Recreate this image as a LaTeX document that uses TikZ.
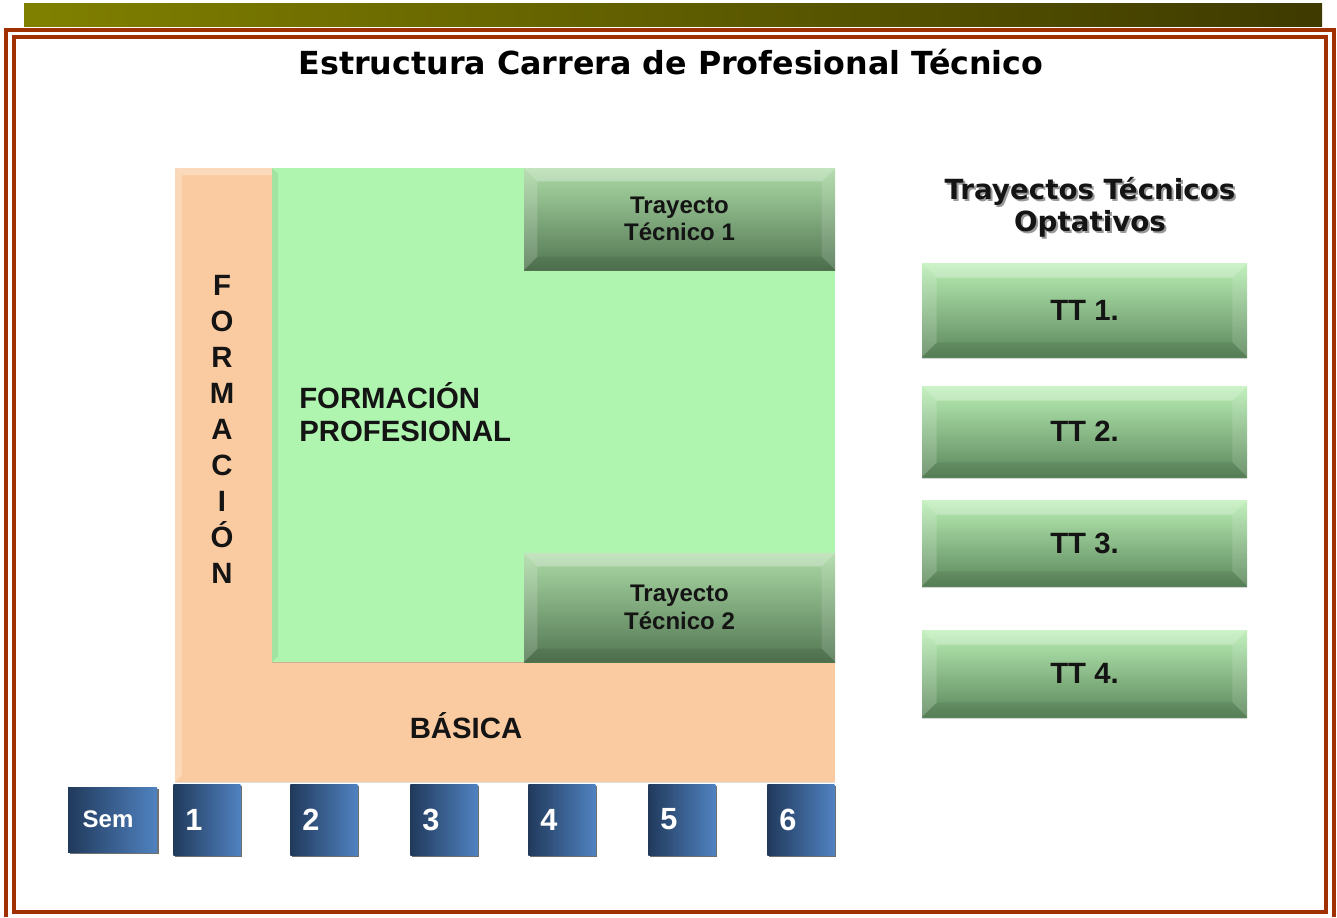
\documentclass[tikz,border=0pt]{standalone}
\usepackage{fontspec}
\setmainfont{Liberation Sans}
\newfontfamily\dejavu{DejaVu Sans}
\usetikzlibrary{shadows}
\definecolor{rust}{RGB}{160,48,0}
\definecolor{oliveL}{RGB}{128,128,0}
\definecolor{oliveR}{RGB}{62,58,0}
\definecolor{peach}{RGB}{250,203,160}
\definecolor{lgreen}{RGB}{175,245,175}
\definecolor{trtop}{RGB}{172,218,166}
\definecolor{trbot}{RGB}{82,118,82}
\definecolor{tttop}{RGB}{185,238,180}
\definecolor{ttbot}{RGB}{92,135,92}
\definecolor{bluel}{RGB}{33,58,92}
\definecolor{bluer}{RGB}{80,130,192}
\definecolor{txt}{RGB}{20,20,20}
\tikzset{
  bevelbox/.style={path picture={
    \fill[white,opacity=.28] (path picture bounding box.north west) -- (path picture bounding box.north east) -- ([xshift=-#1,yshift=-#1]path picture bounding box.north east) -- ([xshift=#1,yshift=-#1]path picture bounding box.north west) -- cycle;
    \fill[white,opacity=.16] (path picture bounding box.north west) -- ([xshift=#1,yshift=-#1]path picture bounding box.north west) -- ([xshift=#1,yshift=#1]path picture bounding box.south west) -- (path picture bounding box.south west) -- cycle;
    \fill[white,opacity=.12] (path picture bounding box.north east) -- ([xshift=-#1,yshift=-#1]path picture bounding box.north east) -- ([xshift=-#1,yshift=#1]path picture bounding box.south east) -- (path picture bounding box.south east) -- cycle;
    \fill[black,opacity=.07] (path picture bounding box.south west) -- ([xshift=#1,yshift=#1]path picture bounding box.south west) -- ([xshift=-#1,yshift=#1]path picture bounding box.south east) -- (path picture bounding box.south east) -- cycle;
  }},
  frameline/.style={draw=rust, line width=3pt},
  trbox/.style={top color=trtop, bottom color=trbot, minimum width=311*0.75pt,
    inner sep=0pt, align=center, text=txt,
    font=\fontsize{18}{20.5}\selectfont\bfseries, bevelbox=10pt,
    drop shadow={shadow xshift=0pt, shadow yshift=-1pt, opacity=.35}},
  ttbox/.style={top color=tttop, bottom color=ttbot, minimum width=325*0.75pt,
    inner sep=0pt, text=txt, font=\fontsize{22}{26}\selectfont\bfseries, bevelbox=11pt,
    drop shadow={shadow xshift=0pt, shadow yshift=-1.5pt, opacity=.35}},
  sembox/.style={left color=bluel, right color=bluer, inner sep=0pt,
    drop shadow={shadow xshift=1.5pt, shadow yshift=-1.5pt, opacity=.75, fill=black!75}},
  semtxt/.style={text=white, inner sep=0pt, font=\fontsize{23}{26}\selectfont\bfseries},
  bigtxt/.style={text=txt, inner sep=0pt, font=\fontsize{22}{25}\selectfont\bfseries},
}
\begin{document}
\begin{tikzpicture}[x=0.75pt,y=0.75pt]
\useasboundingbox (0,0) rectangle (1337,-917);
% banner and frame
\shade[left color=oliveL, right color=oliveR] (24,-4) rectangle (1322,-27);
\draw[frameline] (6,-917) -- (6,-30) -- (1334,-30) -- (1334,-917);
\draw[frameline] (14,-37) rectangle (1326,-912);
% title
\node[inner sep=0pt, font=\dejavu\fontsize{23.8}{27}\selectfont\bfseries] (title) at (671,-62) {Estructura Carrera de Profesional Técnico};
% peach L
\path[fill=peach, drop shadow={shadow xshift=0pt, shadow yshift=-1pt, opacity=.25}] (175,-168) rectangle (835,-782);
\fill[white,opacity=.3] (175,-168) -- (272,-168) -- (272,-175) -- (182,-175) -- cycle;
\fill[white,opacity=.25] (175,-168) -- (182,-175) -- (182,-775) -- (175,-782) -- cycle;
% green area
\path[fill=lgreen, drop shadow={shadow xshift=0pt, shadow yshift=-1pt, opacity=.35}] (272,-168) rectangle (835,-662);
\fill[black,opacity=.07] (272,-168) -- (278,-174) -- (278,-656) -- (272,-662) -- cycle;
% trayecto boxes
\node[trbox, minimum height=102*0.75pt] (tr1) at (679.5,-219) {Trayecto\\Técnico 1};
\node[trbox, minimum height=109*0.75pt] (tr2) at (679.5,-607.5) {Trayecto\\Técnico 2};
% texts in L
\node[bigtxt, anchor=west, align=left, font=\fontsize{22}{24.75}\selectfont\bfseries] (fp) at (299,-412) {FORMACIÓN\\PROFESIONAL};
\foreach \l [count=\i from 0] in {F,O,R,M,A,C,I,Ó,N}
  \node[bigtxt, anchor=base] (fl\i) at (222,-295-36.1*\i) {\l};
\node[bigtxt, anchor=base] (basica) at (466,-738) {BÁSICA};
% right column
\node[text=black!40, align=center, inner sep=0pt, font=\dejavu\fontsize{20.8}{24}\selectfont\bfseries] (hdrshadow) at (1092,-209) {Trayectos Técnicos\\Optativos};
\node[text=txt, align=center, inner sep=0pt, font=\dejavu\fontsize{20.8}{24}\selectfont\bfseries] (hdr) at (1090,-207) {Trayectos Técnicos\\Optativos};
\node[ttbox, minimum height=94*0.75pt] (tt1) at (1084.5,-310) {TT 1.};
\node[ttbox, minimum height=91*0.75pt] (tt2) at (1084.5,-431.5) {TT 2.};
\node[ttbox, minimum height=86*0.75pt] (tt3) at (1084.5,-543) {TT 3.};
\node[ttbox, minimum height=87*0.75pt] (tt4) at (1084.5,-673.5) {TT 4.};
% semester boxes
\node[sembox, minimum width=89*0.75pt, minimum height=65*0.75pt] (sem) at (112.5,-819.5) {};
\node[semtxt, font=\fontsize{18}{20}\selectfont\bfseries] (semt) at (108,-819.5) {Sem};
\foreach \x [count=\i] in {173,290,410,528,648,767}{
  \node[sembox, minimum width=67*0.75pt, minimum height=71*0.75pt, anchor=west] (s\i) at (\x,-819.5) {};
  \node[semtxt, anchor=west] (n\i) at (\x+12,-819.5) {\i};
}
\end{tikzpicture}
\end{document}
